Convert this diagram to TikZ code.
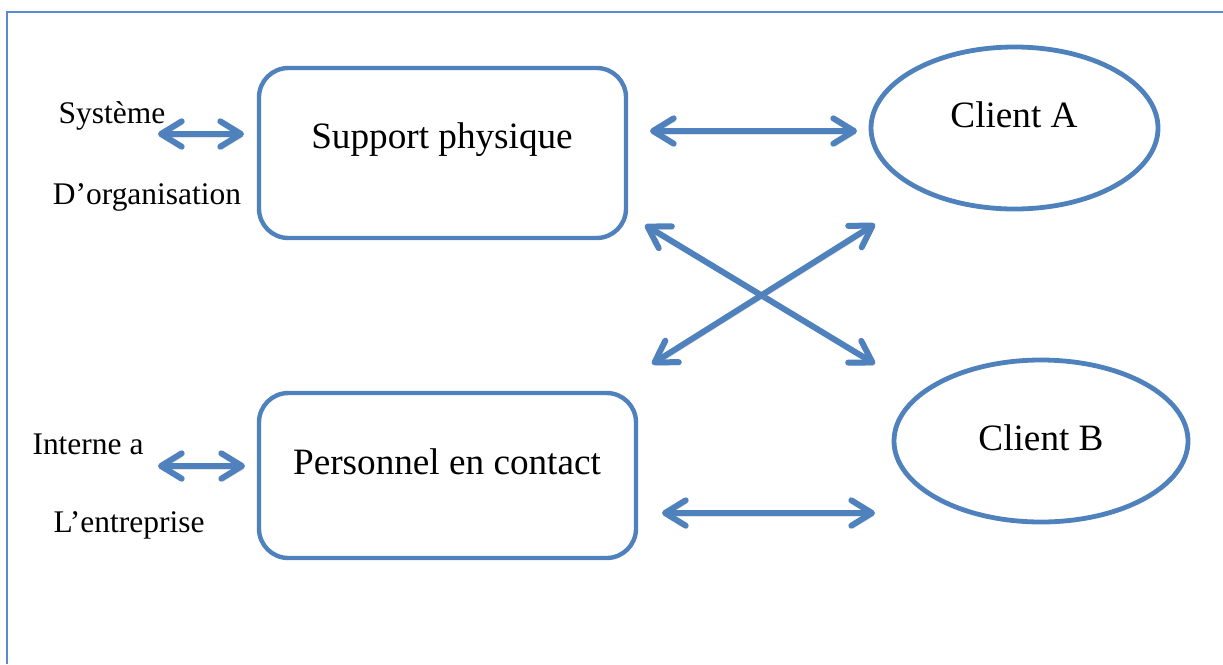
\documentclass[tikz,border=0pt]{standalone}
\usepackage{fontspec}
\setmainfont{Liberation Serif}
\usetikzlibrary{arrows.meta,shapes.geometric}
\definecolor{linkblue}{HTML}{4F81BD}
\definecolor{framblue}{HTML}{5A8AD2}
\tikzset{
  box/.style={draw=linkblue, line width=3.3pt, rounded corners=22pt, inner sep=0pt},
  client/.style={ellipse, draw=linkblue, line width=3.6pt, inner sep=0pt},
  bigtext/.style={font=\fontsize{27.9}{32}\selectfont, inner sep=0pt},
  sidetext/.style={font=\fontsize{23.6}{28}\selectfont, inner sep=0pt},
  link/.style={draw=linkblue, line width=4.5pt, line cap=round,
    {Straight Barb[length=15.5pt,width=19pt,round]}-{Straight Barb[length=15.5pt,width=19pt,round]},
    preaction={draw=black!30, opacity=0.35, transform canvas={shift={(1.2pt,-2.2pt)}}}}
}
\begin{document}
\begin{tikzpicture}[x=0.75pt,y=-0.75pt]
  \useasboundingbox (0,0) rectangle (1223,664);
  % open frame
  \draw[framblue, line width=2pt] (7,664) -- (7,12) -- (1223,12);

  % boxes and clients
  \node[box, minimum width=275.25pt, minimum height=127.5pt] (support) at (442.5,153) {};
  \node[bigtext] (supportlbl) at (442,140) {Support physique};
  \node[box, minimum width=282.75pt, minimum height=123.75pt] (personnel) at (447.5,475.5) {};
  \node[bigtext] (personnellbl) at (447,462) {Personnel en contact};
  \node[client, minimum width=215.25pt, minimum height=121.5pt] (clienta) at (1014.5,128) {};
  \node[bigtext] (clientalbl) at (1014,115) {Client A};
  \node[client, minimum width=220.5pt, minimum height=121.5pt] (clientb) at (1041,441) {};
  \node[bigtext] (clientblbl) at (1041,438) {Client B};

  % side labels
  \node[sidetext] (sys) at (112,116) {Système};
  \node[sidetext] (org) at (147,197) {D’organisation};
  \node[sidetext] (interne) at (88,444) {Interne a};
  \node[sidetext] (entr) at (129,525) {L’entreprise};

  % connector ends
  \coordinate (s1) at (158,134);  \coordinate (s2) at (244,134);
  \coordinate (p1) at (158,466);  \coordinate (p2) at (245,466);
  \coordinate (a1) at (650,131);  \coordinate (a2) at (857,131);
  \coordinate (b1) at (662,513);  \coordinate (b2) at (875,513);
  \coordinate (x1) at (645,225);  \coordinate (x2) at (875,364);
  \coordinate (y1) at (875,224);  \coordinate (y2) at (652,364);

  % connectors
  \draw[link] (s1) -- (s2);
  \draw[link] (p1) -- (p2);
  \draw[link] (a1) -- (a2);
  \draw[link] (b1) -- (b2);
  \draw[link] (x1) -- (x2);
  \draw[link] (y1) -- (y2);
\end{tikzpicture}
\end{document}
